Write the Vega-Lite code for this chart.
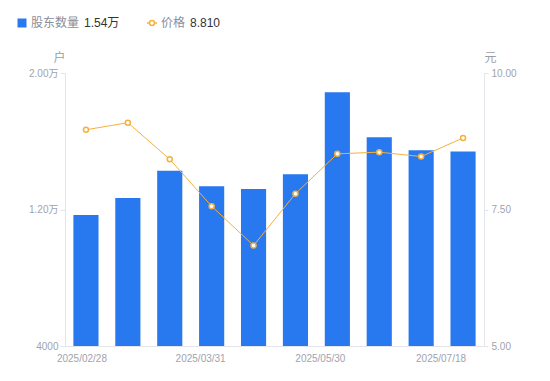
{
  "$schema": "https://vega.github.io/schema/vega-lite/v6.json",
  "width": 419,
  "height": 273,
  "autosize": {"type": "none"},
  "padding": {"left": 65, "top": 73, "right": 66, "bottom": 35},
  "background": "white",
  "config": {
    "view": {"stroke": null},
    "font": "Liberation Sans, Noto Sans CJK SC",
    "axis": {
      "grid": false,
      "domainColor": "#e3e5ea",
      "tickColor": "#e3e5ea",
      "labelColor": "#a0a3ae",
      "labelFontSize": 10,
      "titleFontWeight": "normal",
      "titleColor": "#9a9da8",
      "titleFontSize": 12
    },
    "legend": {
      "orient": "none",
      "direction": "horizontal",
      "padding": 0,
      "labelFontSize": 12,
      "labelColor": "#8a8e9a",
      "titleFontSize": 12,
      "titleColor": "#333333",
      "titleFontWeight": "normal",
      "titleOrient": "right",
      "titlePadding": 5,
      "labelOffset": 3
    }
  },
  "data": {
    "values": [
      {"date": "2025/02/28", "holders": 11680, "price": 8.96},
      {"date": "2025/03/10", "holders": 12670, "price": 9.09},
      {"date": "2025/03/20", "holders": 14270, "price": 8.42},
      {"date": "2025/03/31", "holders": 13360, "price": 7.56},
      {"date": "2025/04/18", "holders": 13200, "price": 6.84},
      {"date": "2025/04/30", "holders": 14060, "price": 7.79},
      {"date": "2025/05/30", "holders": 18870, "price": 8.52},
      {"date": "2025/06/20", "holders": 16230, "price": 8.55},
      {"date": "2025/06/30", "holders": 15470, "price": 8.47},
      {"date": "2025/07/18", "holders": 15400, "price": 8.81}
    ]
  },
  "encoding": {
    "x": {
      "field": "date",
      "type": "ordinal",
      "scale": {"paddingInner": 0.4, "paddingOuter": 0.2},
      "axis": {
        "title": null,
        "values": ["2025/02/28", "2025/03/31", "2025/05/30", "2025/07/18"],
        "ticks": false,
        "labelAngle": 0,
        "labelPadding": 7,
        "labelOffset": {
          "condition": [
            {"test": "datum.value === '2025/03/31'", "value": -11},
            {"test": "datum.value === '2025/05/30'", "value": -17},
            {"test": "datum.value === '2025/07/18'", "value": -22}
          ],
          "value": -4
        }
      }
    }
  },
  "layer": [
    {
      "mark": {"type": "bar", "clip": true},
      "encoding": {
        "y": {
          "field": "holders",
          "type": "quantitative",
          "scale": {"domain": [4000, 20000], "zero": false, "nice": false},
          "axis": {
            "orient": "left",
            "values": [4000, 12000, 20000],
            "labelExpr": "datum.value >= 10000 ? format(datum.value / 10000, '.2f') + '万' : format(datum.value, 'd')",
            "tickSize": 5,
            "labelPadding": 2,
            "title": "户",
            "titleAngle": 0,
            "titleX": -6,
            "titleY": -16,
            "titleAlign": "center",
            "titleBaseline": "middle"
          }
        },
        "fill": {
          "datum": "股东数量",
          "type": "nominal",
          "scale": {"range": ["#2878f0"]},
          "legend": {
            "title": "1.54万",
            "symbolType": "square",
            "symbolSize": 81,
            "legendX": -49,
            "legendY": -56
          }
        }
      }
    },
    {
      "mark": {
        "type": "line",
        "strokeWidth": 1,
        "point": {"filled": false, "fill": "white", "size": 25, "strokeWidth": 1.5}
      },
      "encoding": {
        "y": {
          "field": "price",
          "type": "quantitative",
          "scale": {"domain": [5, 10], "zero": false, "nice": false},
          "axis": {
            "orient": "right",
            "values": [5, 7.5, 10],
            "format": ".2f",
            "tickSize": 4,
            "labelPadding": 3,
            "title": "元",
            "titleAngle": 0,
            "titleX": 6,
            "titleY": -16,
            "titleAlign": "center",
            "titleBaseline": "middle"
          }
        },
        "stroke": {
          "datum": "价格",
          "type": "nominal",
          "scale": {"range": ["#f5b040"]},
          "legend": {
            "title": "8.810",
            "symbolType": "M-1,0L-0.5,0M0.5,0L1,0M0.5,0A0.5,0.5,0,1,1,-0.5,0A0.5,0.5,0,1,1,0.5,0Z",
            "symbolSize": 100,
            "symbolStrokeWidth": 1.5,
            "symbolFillColor": "white",
            "legendX": 81,
            "legendY": -56
          }
        }
      }
    }
  ],
  "resolve": {"scale": {"y": "independent", "fill": "independent", "stroke": "independent"}}
}
